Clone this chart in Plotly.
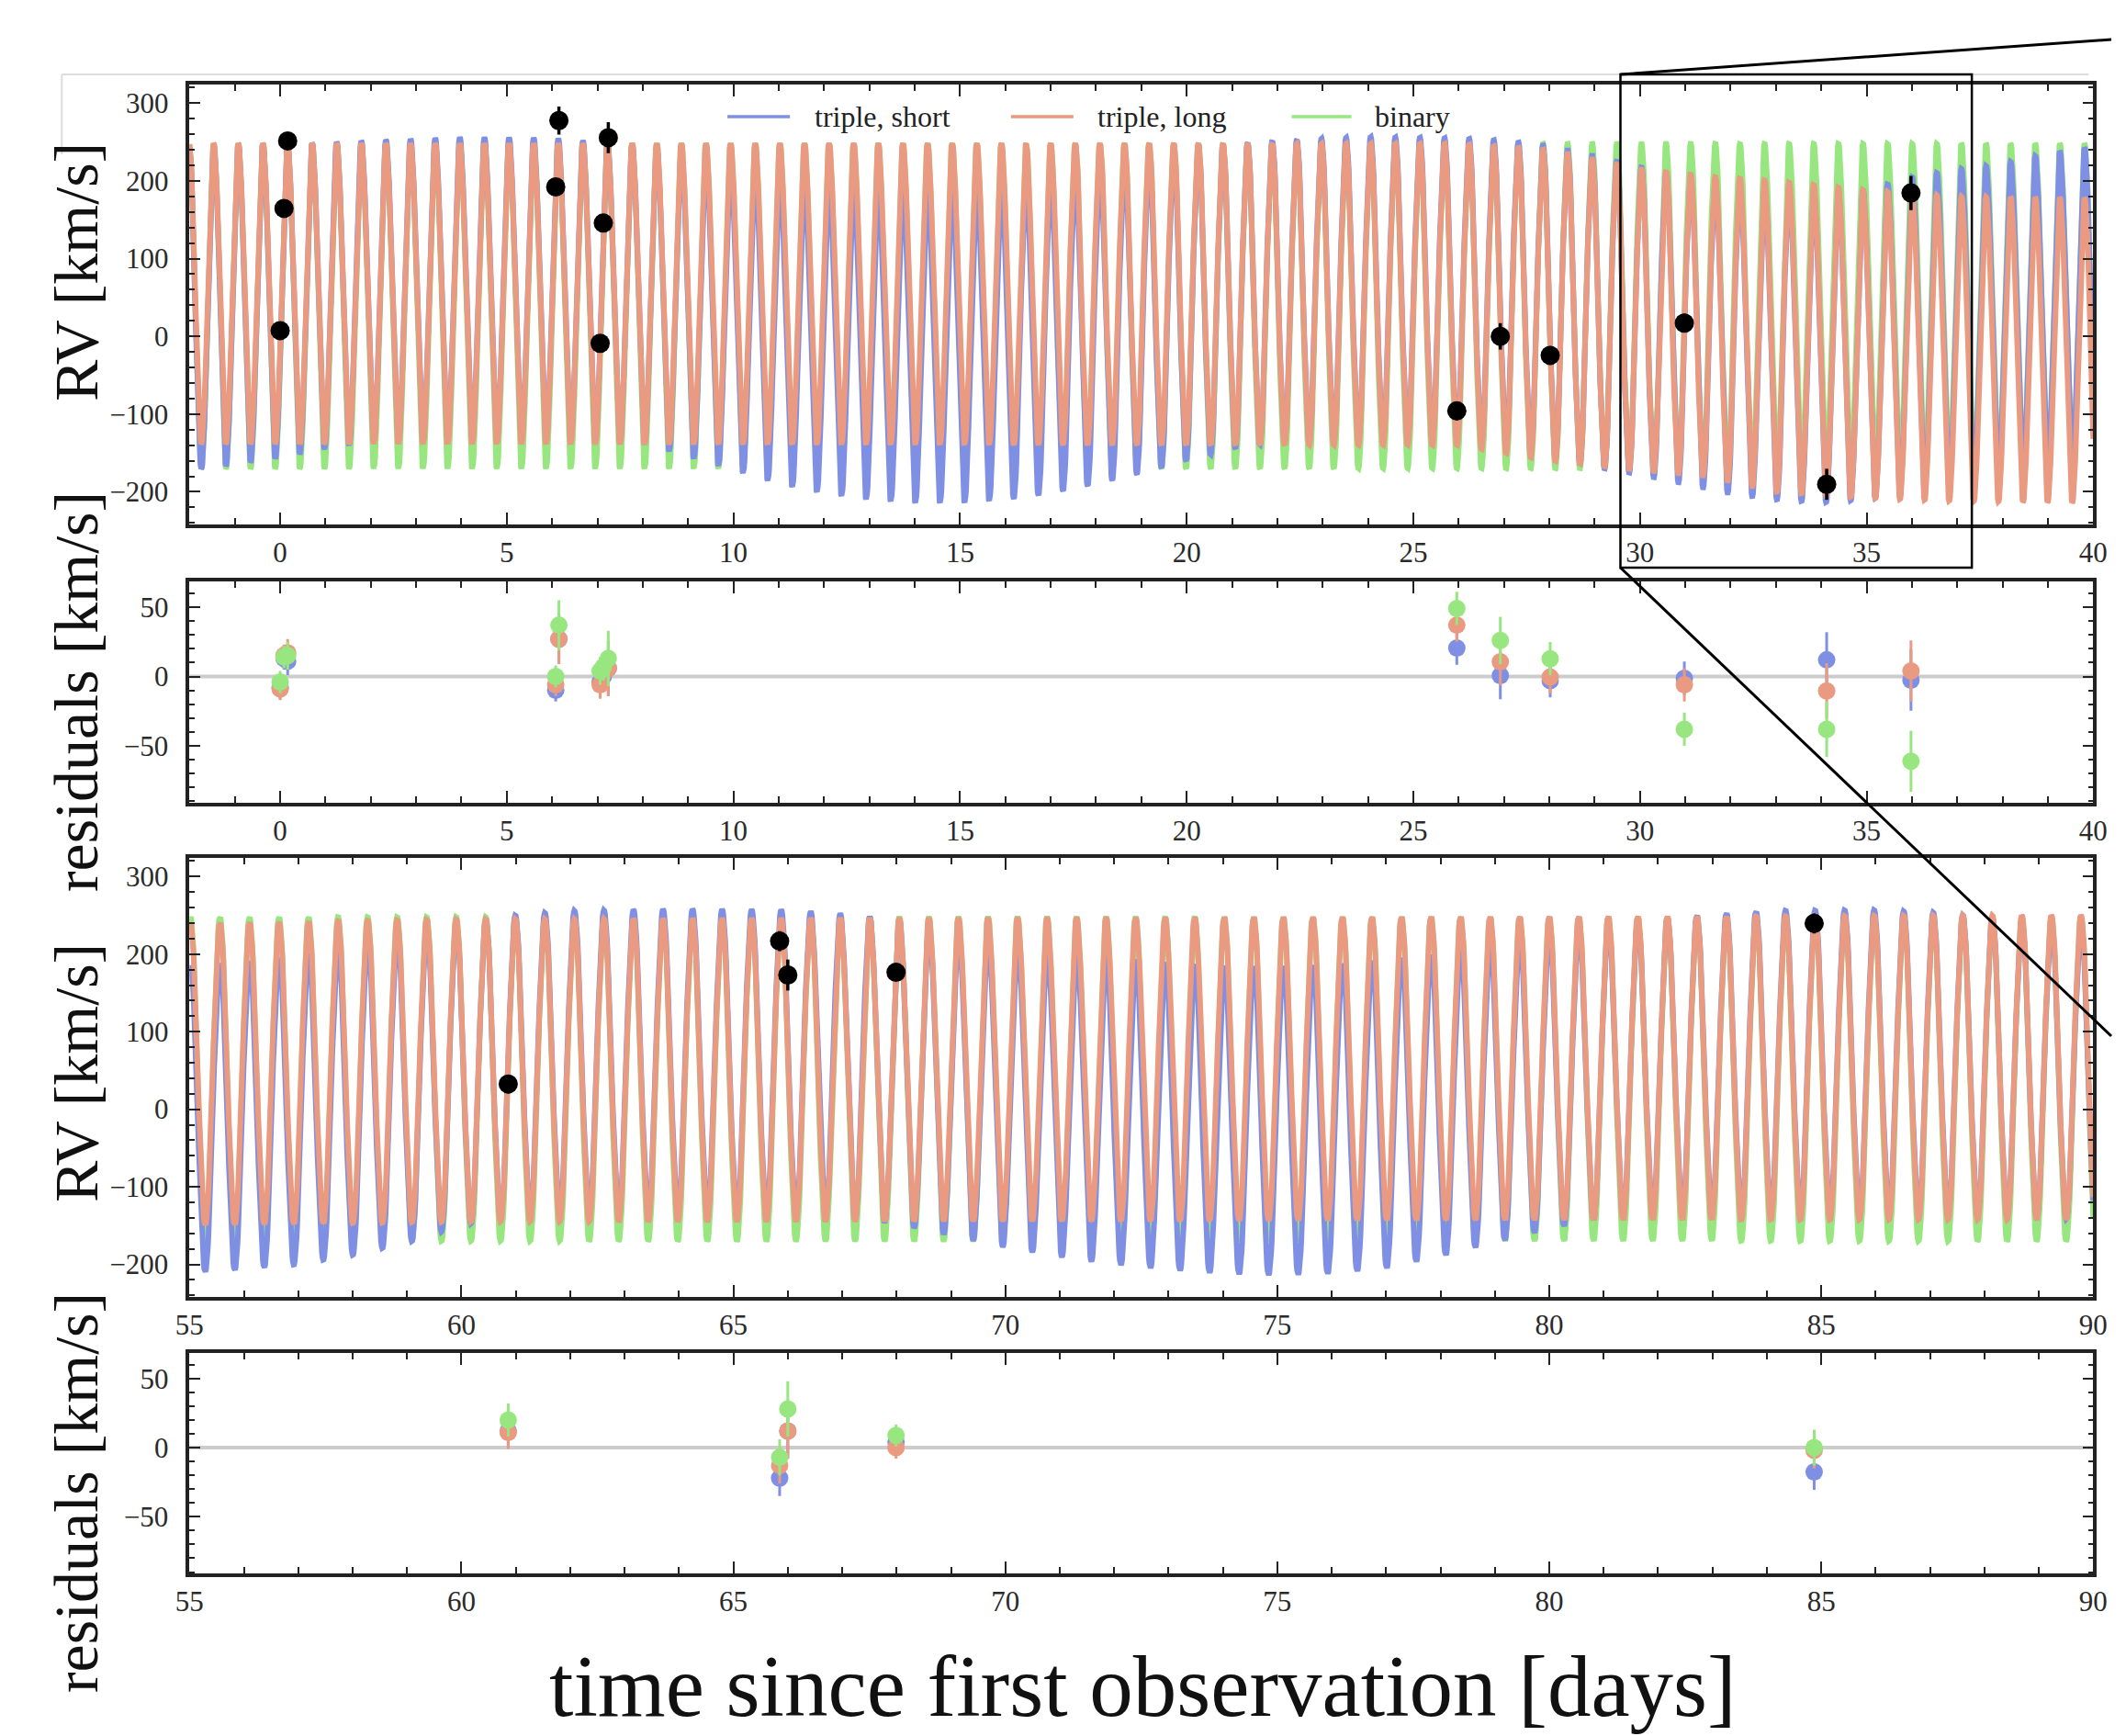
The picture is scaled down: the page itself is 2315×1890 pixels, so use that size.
import numpy as np
import plotly.graph_objects as go

W, H = 2315, 1890

# ---------------- data ----------------
PERIOD = 0.5431          # days, inner binary period of the model curves
T_PEAK = -1.465          # time of a velocity maximum

# model envelopes (time, peak RV, trough RV) -- top window (-2..40 d)
GREEN_T1 = [-2, 40]
GREEN_PK1 = [248, 248]
GREEN_TR1 = [-170, -170]

ORANGE_T1 = [-2, 26, 28, 30, 31.5, 33, 35, 37, 40]
ORANGE_PK1 = [248, 248, 240, 215, 206, 200, 188, 180, 178]
ORANGE_TR1 = [-138, -140, -160, -172, -180, -200, -208, -212, -214]

BLUE_T1 = [-2, -1, 0, 1, 2, 4, 6, 8, 9, 10, 11, 12, 13, 14, 15, 16, 17, 18, 19, 20,
           21, 22, 24, 26, 27, 28, 29, 30, 31, 32, 33, 34, 35, 36, 37, 38, 39, 40]
BLUE_PK1 = [244, 246, 247, 249, 252, 256, 255, 245, 232, 215, 200, 192, 186, 184, 185, 190, 198, 210, 225, 238,
            247, 252, 257, 255, 252, 245, 232, 218, 204, 193, 186, 184, 188, 205, 215, 222, 236, 244]
BLUE_TR1 = [-172, -165, -156, -145, -136, -133, -133, -138, -155, -172, -190, -202, -210, -214, -214, -210, -202, -190, -176, -160,
            -145, -136, -133, -133, -140, -155, -168, -178, -190, -202, -210, -214, -210, -200, -190, -178, -166, -155]

# model envelopes -- bottom window (55..90 d)
GREEN_T2 = [55, 90]
GREEN_PK2 = [248, 248]
GREEN_TR2 = [-170, -170]

ORANGE_T2 = [55, 60, 90]
ORANGE_PK2 = [240, 245, 250]
ORANGE_TR2 = [-150, -145, -142]

BLUE_T2 = [55, 56, 57, 58, 59, 60, 61, 62, 64, 66, 67, 68, 69, 70, 71, 72, 73, 74, 75, 76,
           77, 78, 79, 80, 81, 82, 83, 84, 86, 87, 88, 89, 90]
BLUE_PK2 = [185, 190, 198, 210, 225, 238, 250, 256, 258, 257, 252, 244, 230, 215, 203, 195, 188, 184, 184, 186,
            193, 200, 212, 225, 236, 245, 252, 256, 257, 254, 248, 240, 232]
BLUE_TR2 = [-211, -207, -200, -188, -172, -150, -136, -133, -132, -133, -138, -148, -163, -178, -190, -200, -207, -212, -214, -212,
            -205, -190, -172, -155, -140, -133, -132, -132, -132, -133, -135, -138, -145]

# observations, top window
T_OBS1 = [0.0, 0.085, 0.166, 6.08, 6.15, 7.06, 7.13, 7.24, 25.96, 26.92, 28.02, 30.98, 34.12, 35.98]
RV_OBS1 = [7.4, 164.6, 251.4, 192.3, 277.6, -8.9, 145.8, 255.6, -95.9, 0.0, -24.5, 17.1, -190.3, 184.5]
ERR_OBS1 = [8, 8, 10, 8, 18, 10, 10, 20, 12, 17, 12, 12, 20, 22]
RES_BLUE1 = [-8, 13, 11, -10, 27, -4, 0, 6, 20.5, 0.7, -3, -1.3, 12, -2.6]
RES_ORANGE1 = [-9, 15, 17, -6, 27, -6, 2, 6, 37, 10.6, -0.4, -6, -10.4, 4]
RES_GREEN1 = [-4, 14, 15, 0, 37, 4, 7, 13, 49, 26, 12.8, -38, -38, -61]

# observations, bottom window
T_OBS2 = [60.86, 65.85, 66.0, 67.99, 84.87]
RV_OBS2 = [32.5, 216.7, 173.0, 176.5, 239.5]
ERR_OBS2 = [12, 13, 20, 8, 13]
RES_BLUE2 = [12, -22, 12, 4, -17.6]
RES_ORANGE2 = [11, -13, 12, 0, -2]
RES_GREEN2 = [20, -7, 28, 8.8, 0]

SERIES = ["triple, short", "triple, long", "binary"]
COL_BLUE = "#7f90e4"
COL_ORANGE = "#e99a80"
COL_GREEN = "#98e680"

X_RANGE1 = [-2, 40]
X_RANGE2 = [55, 90]
RV_RANGE = [-242, 324]
RES_RANGE = [-91, 68.5]

# ---------------- helpers ----------------
def px(x):
    return x / W

def py(y):
    return 1 - y / H

def model(t_anchor, peaks, troughs, t0, t1):
    t = np.linspace(t0, t1, int((t1 - t0) / PERIOD * 48))
    pk = np.interp(t, t_anchor, peaks)
    tr = np.interp(t, t_anchor, troughs)
    y = (pk + tr) / 2 + (pk - tr) / 2 * np.cos(2 * np.pi * (t - T_PEAK) / PERIOD)
    return t, y

fig = go.Figure()

def add_models(xa, ya, t0, t1, g, o, b):
    for (ta, pk, tr), col in ((g, COL_GREEN), (b, COL_BLUE), (o, COL_ORANGE)):
        t, y = model(ta, pk, tr, t0, t1)
        fig.add_trace(go.Scatter(x=t, y=y, mode="lines", xaxis=xa, yaxis=ya,
                                 line=dict(color=col, width=6), showlegend=False,
                                 hoverinfo="skip"))

def add_obs(xa, ya, t, rv, err):
    fig.add_trace(go.Scatter(x=t, y=rv, mode="markers", xaxis=xa, yaxis=ya,
                             marker=dict(color="black", size=21),
                             error_y=dict(type="data", array=err, color="black",
                                          thickness=3.5, width=0),
                             showlegend=False))

def add_res(xa, ya, t, err, rb, ro, rg):
    for r, col in ((rb, COL_BLUE), (ro, COL_ORANGE), (rg, COL_GREEN)):
        fig.add_trace(go.Scatter(x=t, y=r, mode="markers", xaxis=xa, yaxis=ya,
                                 marker=dict(color=col, size=19),
                                 error_y=dict(type="data", array=err, color=col,
                                              thickness=3, width=0),
                                 showlegend=False))

add_models("x", "y", X_RANGE1[0], X_RANGE1[1],
           (GREEN_T1, GREEN_PK1, GREEN_TR1), (ORANGE_T1, ORANGE_PK1, ORANGE_TR1),
           (BLUE_T1, BLUE_PK1, BLUE_TR1))
add_obs("x", "y", T_OBS1, RV_OBS1, ERR_OBS1)
add_res("x2", "y2", T_OBS1, ERR_OBS1, RES_BLUE1, RES_ORANGE1, RES_GREEN1)

add_models("x3", "y3", X_RANGE2[0], X_RANGE2[1],
           (GREEN_T2, GREEN_PK2, GREEN_TR2), (ORANGE_T2, ORANGE_PK2, ORANGE_TR2),
           (BLUE_T2, BLUE_PK2, BLUE_TR2))
add_obs("x3", "y3", T_OBS2, RV_OBS2, ERR_OBS2)
add_res("x4", "y4", T_OBS2, ERR_OBS2, RES_BLUE2, RES_ORANGE2, RES_GREEN2)

# ---------------- layout ----------------
XDOM = [px(193), px(2295)]
YDOMS = [[py(571), py(92)], [py(874), py(633)], [py(1412), py(934)], [py(1713), py(1473)]]
TICKFONT = dict(family="Liberation Serif", size=31, color="#2a2a2a")

def xaxis(rng, anchor):
    return dict(domain=XDOM, range=rng, anchor=anchor, tick0=0, dtick=5,
                ticks="inside", ticklen=13, tickwidth=2, tickcolor="#222",
                minor=dict(dtick=1, ticks="inside", ticklen=7, tickwidth=2, tickcolor="#222"),
                showline=True, linewidth=3.5, linecolor="#222", mirror="allticks",
                showgrid=False, zeroline=False, tickfont=TICKFONT, ticklabelstandoff=0)

def yaxis(dom, rng, dtick, minor, anchor):
    return dict(domain=dom, range=rng, anchor=anchor, tick0=0, dtick=dtick,
                ticks="inside", ticklen=12, tickwidth=2, tickcolor="#222",
                minor=dict(dtick=minor, ticks="inside", ticklen=6, tickwidth=2, tickcolor="#222"),
                showline=True, linewidth=3.5, linecolor="#222", mirror="allticks",
                showgrid=False, zeroline=False, tickfont=TICKFONT, ticklabelstandoff=13)

shapes = []
# zero lines of the residual panels
for xr, yr, rng in (("x2", "y2", X_RANGE1), ("x4", "y4", X_RANGE2)):
    shapes.append(dict(type="line", xref=xr, yref=yr, x0=rng[0], x1=rng[1], y0=0, y1=0,
                       line=dict(color="#cccccc", width=4), layer="below"))
# faint frame line at the top
shapes.append(dict(type="line", xref="paper", yref="paper", x0=px(52), x1=px(2290),
                   y0=py(81), y1=py(81), line=dict(color="#dddddd", width=2)))
shapes.append(dict(type="line", xref="paper", yref="paper", x0=px(52), x1=px(52),
                   y0=py(81), y1=py(168), line=dict(color="#dddddd", width=2)))
# zoom box and connectors
shapes.append(dict(type="rect", xref="paper", yref="paper", x0=px(1773), x1=px(2161),
                   y0=py(618), y1=py(81), line=dict(color="black", width=2.5)))
shapes.append(dict(type="line", xref="paper", yref="paper", x0=px(1773), y0=py(81),
                   x1=px(2315), y1=py(43), line=dict(color="black", width=3)))
shapes.append(dict(type="line", xref="paper", yref="paper", x0=px(1773), y0=py(618),
                   x1=px(2315), y1=py(1128), line=dict(color="black", width=3)))

annotations = []
# legend (drawn by hand to get long sample lines)
LEG = [(787, 856, 881, SERIES[0], COL_BLUE), (1100, 1169, 1193, SERIES[1], COL_ORANGE),
       (1410, 1476, 1500, SERIES[2], COL_GREEN)]
for x0, x1, xt, name, col in LEG:
    shapes.append(dict(type="line", xref="paper", yref="paper", x0=px(x0), x1=px(x1),
                       y0=py(127), y1=py(127), line=dict(color=col, width=3.5)))
    annotations.append(dict(text=name, xref="paper", yref="paper", x=px(xt), y=py(127),
                            xanchor="left", yanchor="middle", showarrow=False,
                            font=dict(family="Liberation Serif", size=32, color="#222")))

TITLEFONT = dict(family="Liberation Serif", size=68, color="#111")
for text, yc in (("RV [km/s]", 296), ("residuals [km/s]", 753),
                 ("RV [km/s]", 1168), ("residuals [km/s]", 1625)):
    annotations.append(dict(text=text, xref="paper", yref="paper", x=px(68), y=py(yc),
                            xanchor="center", yanchor="middle", textangle=-90,
                            showarrow=False, font=TITLEFONT))
annotations.append(dict(text="time since first observation [days]", xref="paper", yref="paper",
                        x=px(1246), y=py(1836), xanchor="center", yanchor="middle",
                        showarrow=False,
                        font=dict(family="Liberation Serif", size=95, color="#111")))

fig.update_layout(
    width=W, height=H,
    margin=dict(l=0, r=0, t=0, b=0),
    paper_bgcolor="white", plot_bgcolor="white",
    showlegend=False,
    xaxis=xaxis(X_RANGE1, "y"), yaxis=yaxis(YDOMS[0], RV_RANGE, 100, 20, "x"),
    xaxis2=xaxis(X_RANGE1, "y2"), yaxis2=yaxis(YDOMS[1], RES_RANGE, 50, 10, "x2"),
    xaxis3=xaxis(X_RANGE2, "y3"), yaxis3=yaxis(YDOMS[2], RV_RANGE, 100, 20, "x3"),
    xaxis4=xaxis(X_RANGE2, "y4"), yaxis4=yaxis(YDOMS[3], RES_RANGE, 50, 10, "x4"),
    shapes=shapes, annotations=annotations,
)

fig.write_html("out.html")
